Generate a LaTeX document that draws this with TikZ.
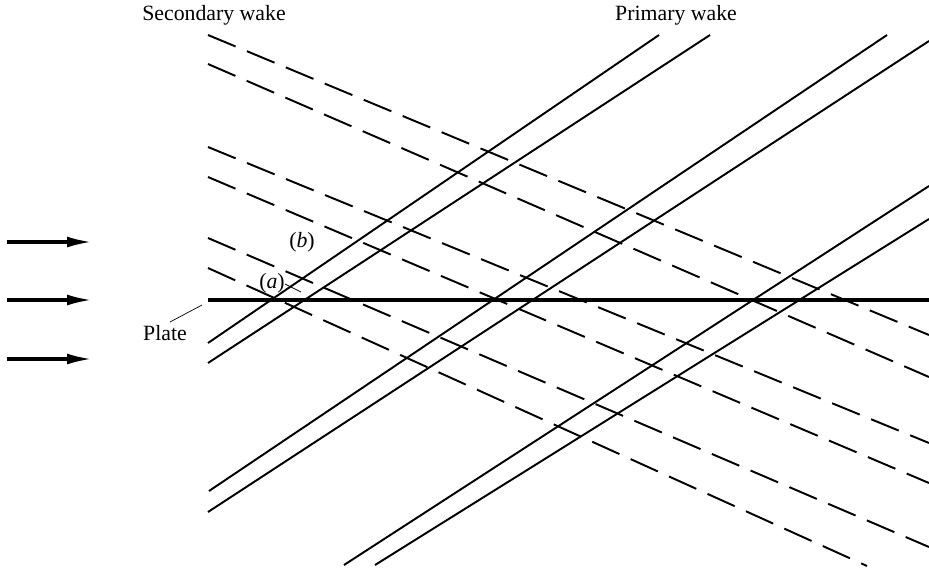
\documentclass[tikz,border=0pt]{standalone}
\usepackage{fontspec}
\setmainfont{Liberation Serif}
\usetikzlibrary{arrows.meta}
\begin{document}
\begin{tikzpicture}[
    x=0.02cm, y=-0.02cm,
    wake/.style={line width=1.1pt},
    swake/.style={line width=1.1pt, dash pattern=on 17pt off 7pt},
    plate/.style={line width=1.8pt},
    flow/.style={line width=1.8pt, -{Latex[length=0.5cm,width=0.22cm]}},
    lbl/.style={inner sep=1pt, font=\fontsize{12.4}{15}\selectfont}
]
\useasboundingbox (0,0) rectangle (929,572);

% Labels
\node[lbl] (sec) at (214,15) {Secondary wake};
\node[lbl] (pri) at (676,15) {Primary wake};
\node[lbl] (pl) at (165,333) {Plate};
\node[lbl] (b) at (302,242) {(\textit{b})};
\node[lbl] (a) at (272,283) {(\textit{a})};

% Free stream
\coordinate (f1) at (7,242);  \coordinate (g1) at (92,242);
\coordinate (f2) at (7,300);  \coordinate (g2) at (92,300);
\coordinate (f3) at (7,359);  \coordinate (g3) at (92,359);
\draw[flow] (f1) -- (g1);
\draw[flow] (f2) -- (g2);
\draw[flow] (f3) -- (g3);

% Plate
\coordinate (p0) at (208,300);
\coordinate (p1) at (929,300);
\coordinate (pq) at (170,322);
\coordinate (pt) at (202,305);
\draw[plate] (p0) -- (p1);
\draw (pq) -- (pt);

% (a) leader
\coordinate (aq) at (285,284);
\coordinate (at) at (301,292);
\draw (aq) -- (at);

% Primary wake
\coordinate (A1) at (208,343); \coordinate (A2) at (659,35);
\coordinate (B1) at (208,363); \coordinate (B2) at (710,35);
\coordinate (C1) at (209,491); \coordinate (C2) at (887,35);
\coordinate (D1) at (208,512); \coordinate (D2) at (929,41);
\coordinate (E1) at (344,565); \coordinate (E2) at (929,186);
\coordinate (F1) at (375,565); \coordinate (F2) at (929,219);
\draw[wake] (A1) -- (A2);
\draw[wake] (B1) -- (B2);
\draw[wake] (C1) -- (C2);
\draw[wake] (D1) -- (D2);
\draw[wake] (E1) -- (E2);
\draw[wake] (F1) -- (F2);

% Secondary wake
\coordinate (s1) at (208,35);  \coordinate (t1) at (929,335);
\coordinate (s2) at (208,64);  \coordinate (t2) at (929,377);
\coordinate (s3) at (208,147); \coordinate (t3) at (929,443);
\coordinate (s4) at (208,177); \coordinate (t4) at (929,483);
\coordinate (s5) at (208,238); \coordinate (t5) at (929,547);
\coordinate (s6) at (208,268); \coordinate (t6) at (867,566);
\draw[swake] (s1) -- (t1);
\draw[swake] (s2) -- (t2);
\draw[swake] (s3) -- (t3);
\draw[swake] (s4) -- (t4);
\draw[swake] (s5) -- (t5);
\draw[swake] (s6) -- (t6);

\end{tikzpicture}
\end{document}
